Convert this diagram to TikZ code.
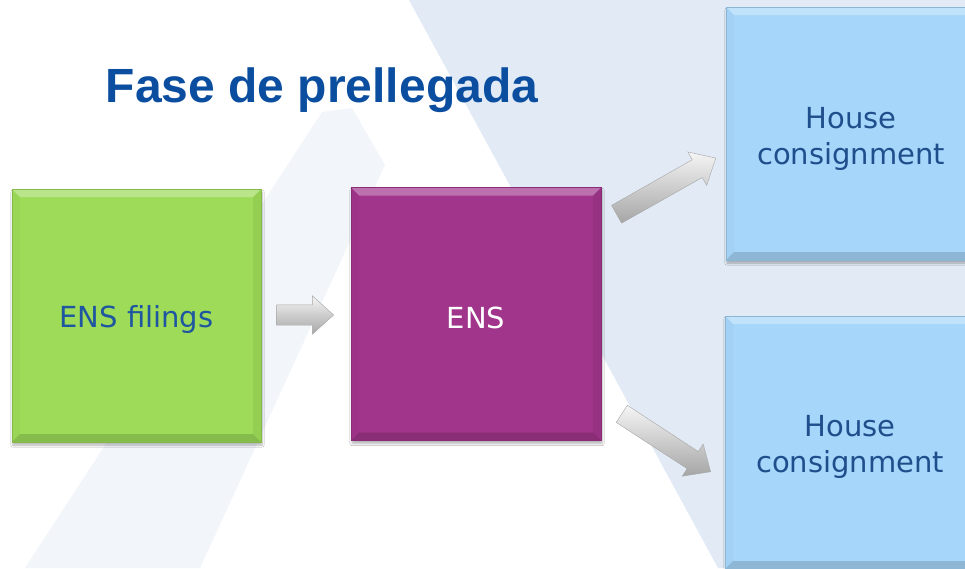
\documentclass[tikz,border=0pt]{standalone}
\usepackage{fontspec}
\setmainfont{DejaVu Sans}
\newfontfamily\titlefont{Liberation Sans}
\usetikzlibrary{shapes.arrows,shadows.blur}
\definecolor{bgblue}{HTML}{E2EBF5}
\definecolor{bgfaint}{HTML}{F2F6FB}
\definecolor{titleblue}{HTML}{0B4EA0}
\definecolor{greenbox}{HTML}{9DDB58}
\definecolor{magbox}{HTML}{A0358B}
\definecolor{bluebox}{HTML}{A6D6FA}
\definecolor{textblue}{HTML}{1E56A0}
\definecolor{hctext}{HTML}{1F4E8C}
\tikzset{
  bevel/.style={path picture={
    \coordinate (pnw) at (path picture bounding box.north west);
    \coordinate (pne) at (path picture bounding box.north east);
    \coordinate (psw) at (path picture bounding box.south west);
    \coordinate (pse) at (path picture bounding box.south east);
    \fill[white,opacity=0.30] (pnw) -- (pne) -- ([xshift=-8pt,yshift=-8pt]pne) -- ([xshift=8pt,yshift=-8pt]pnw) -- cycle;
    \fill[black,opacity=0.14] (psw) -- (pse) -- ([xshift=-8pt,yshift=8pt]pse) -- ([xshift=8pt,yshift=8pt]psw) -- cycle;
    \fill[black,opacity=0.02] (pnw) -- ([xshift=8pt,yshift=-8pt]pnw) -- ([xshift=8pt,yshift=8pt]psw) -- (psw) -- cycle;
    \fill[black,opacity=0.05] (pne) -- ([xshift=-8pt,yshift=-8pt]pne) -- ([xshift=-8pt,yshift=8pt]pse) -- (pse) -- cycle;
  }},
  box/.style={rectangle, inner sep=0pt, minimum width=250pt, minimum height=253pt,
    line width=0.6pt,
    blur shadow={shadow xshift=1pt, shadow yshift=-3pt, shadow blur steps=6, shadow opacity=30},
    bevel},
  boxtext/.style={align=center, inner sep=0pt, font=\fontsize{29}{36}\selectfont},
  barrow/.style={single arrow, single arrow head extend=9pt,
    single arrow tip angle=84, inner xsep=0pt, inner ysep=10pt, shading=axis,
    top color=gray!8, middle color=gray!32, bottom color=gray!70,
    draw=gray!70, line width=0.4pt, sloped},
}
\begin{document}
\begin{tikzpicture}[x=1pt,y=-1pt]
\useasboundingbox (0,0) rectangle (965,568);
\clip (0,0) rectangle (965,568);
% background
\fill[white] (0,0) rectangle (965,568);
\fill[bgfaint] (322,112) -- (352,108) -- (385,165) -- (200,568) -- (25,568) -- cycle;
\fill[bgblue] (409,0) -- (965,0) -- (965,568) -- (718,568) -- cycle;
% title
\node[anchor=base, text=titleblue, font=\titlefont\bfseries\fontsize{48}{56}\selectfont, inner sep=0pt] (title) at (322,102) {Fase de prellegada};
% boxes
\node[box, fill=greenbox, draw=greenbox!85!black, minimum width=249pt] (filings) at (136.5,315.5) {};
\node[box, fill=magbox, draw=magbox!85!black] (ens) at (476,314) {};
\node[box, fill=bluebox, draw=bluebox!85!black] (hc1) at (851,133.5) {};
\node[box, fill=bluebox, draw=bluebox!85!black] (hc2) at (850,442.5) {};
% box texts
\node[boxtext, text=textblue] (tfilings) at ([yshift=-3.5pt]filings.center) {ENS filings};
\node[boxtext, text=white] (tens) at ([yshift=-3.5pt]ens.center) {ENS};
\node[boxtext, text=hctext] (thc1) at ([yshift=-5pt]hc1.center) {House\\consignment};
\node[boxtext, text=hctext] (thc2) at ([yshift=-4pt]hc2.center) {House\\consignment};
% arrow end points
\coordinate (a1s) at (277,315);
\coordinate (a1e) at (334,315);
\coordinate (a2s) at (617,214);
\coordinate (a2e) at (716,158);
\coordinate (a3s) at (622,414);
\coordinate (a3e) at (711,472);
\path (a1s) -- (a1e) node[barrow, pos=0.395, minimum height=57pt] (ar1) {};
\path (a2s) -- (a2e) node[barrow, pos=0.447, minimum height=114pt] (ar2) {};
\path (a3s) -- (a3e) node[barrow, pos=0.443, minimum height=106pt] (ar3) {};
\end{tikzpicture}
\end{document}
